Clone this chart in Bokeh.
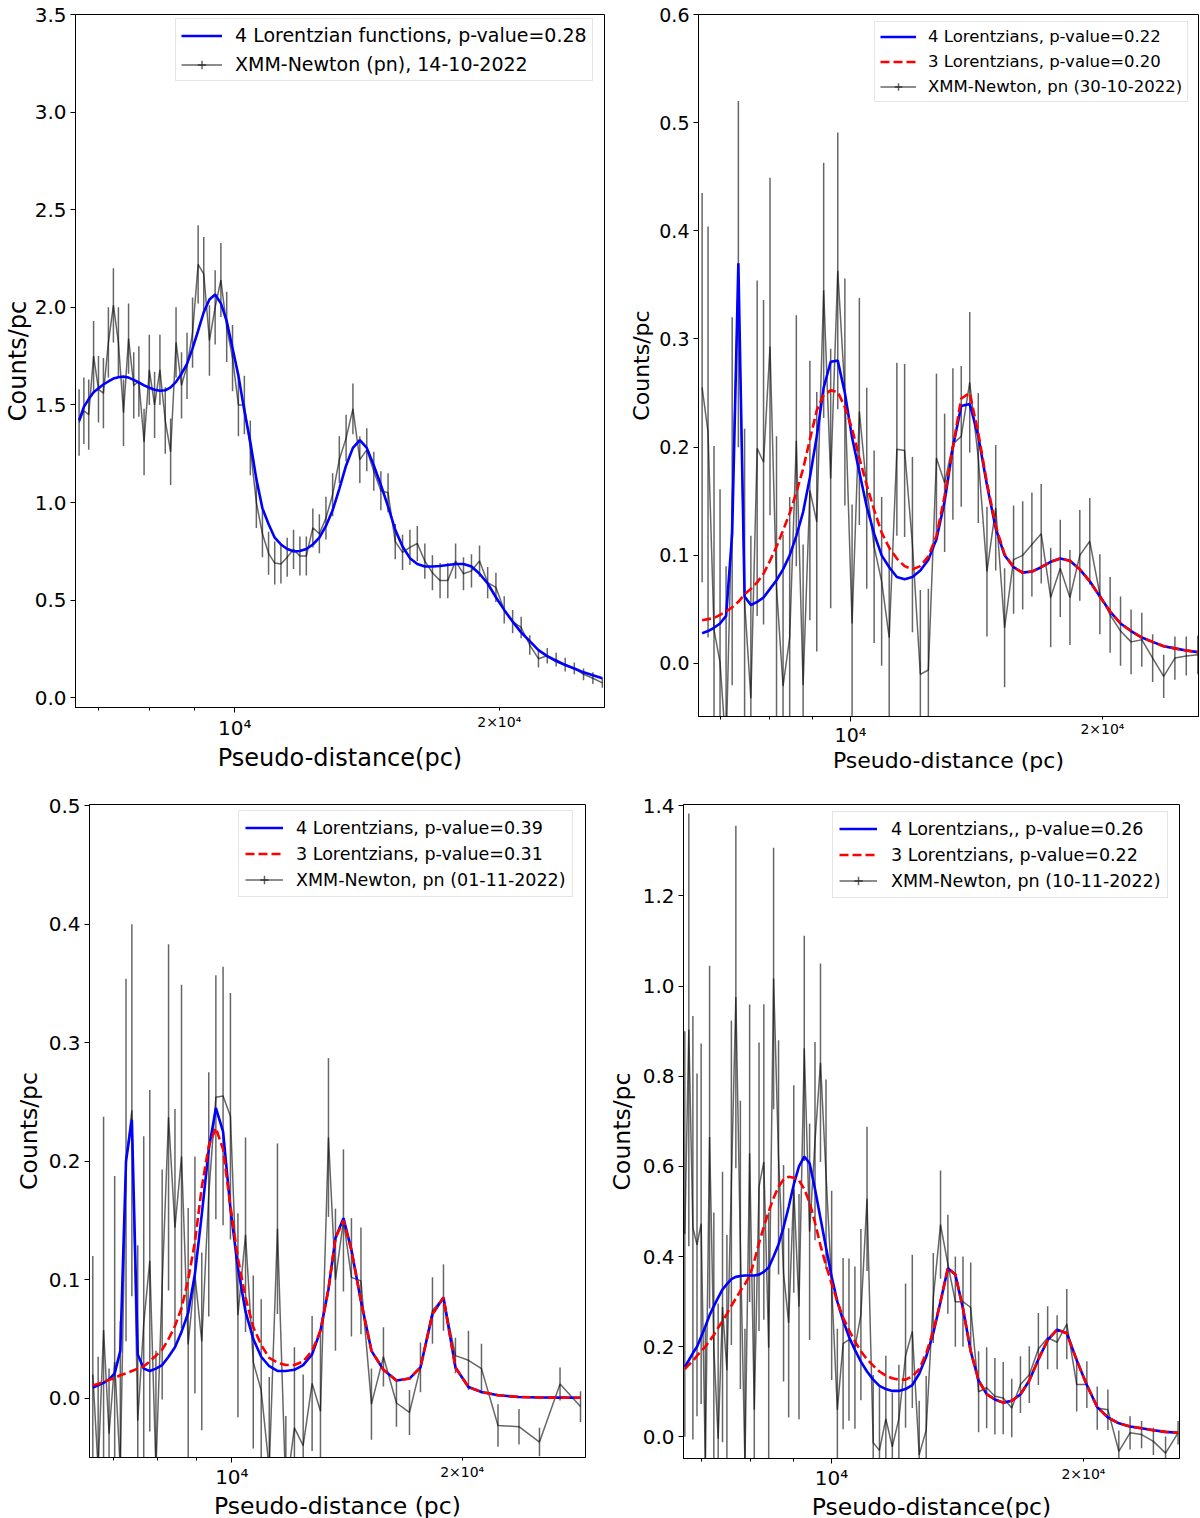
from bokeh.plotting import figure
from bokeh.models import (Range1d, FixedTicker, PrintfTickFormatter, Legend,
                          LegendItem, LogAxis, ColumnDataSource)
from bokeh.layouts import row, column
from bokeh.embed import file_html
from bokeh.resources import INLINE

FONT = "DejaVu Sans"

# ---------------- Panel 1 : XMM-Newton (pn), 14-10-2022 ----------------
P1_X = [6650, 6734, 6820, 6908, 6997, 7088, 7181, 7276, 7372, 7471,
        7571, 7674, 7778, 7885, 7994, 8105, 8219, 8335, 8453, 8574,
        8698, 8824, 8953, 9085, 9220, 9358, 9499, 9643, 9791, 9942,
        10096, 10255, 10416, 10582, 10752, 10926, 11104, 11286, 11473, 11665,
        11861, 12063, 12270, 12482, 12699, 12923, 13152, 13388, 13629, 13878,
        14133, 14396, 14665, 14943, 15228, 15522, 15824, 16135, 16456, 16786,
        17126, 17476, 17837, 18210, 18595, 18992, 19401, 19825, 20261, 20713,
        21180, 21663, 22163, 22680, 23215, 23770, 24345, 24941, 25559, 26200]
P1_Y = [1.41, 1.47, 1.45, 1.75, 1.58, 1.56, 1.82, 2.01, 1.82, 1.46,
        1.84, 1.60, 1.62, 1.31, 1.68, 1.50, 1.68, 1.42, 1.26, 1.82,
        1.60, 1.70, 1.87, 2.22, 2.17, 1.83, 2.00, 2.14, 1.90, 1.74,
        1.50, 1.50, 1.28, 1.00, 0.84, 0.74, 0.69, 0.685, 0.72, 0.76,
        0.726, 0.726, 0.87, 0.84, 0.92, 1.04, 1.22, 1.33, 1.48, 1.22,
        1.27, 1.16, 1.06, 1.05, 0.80, 0.745, 0.77, 0.79, 0.70, 0.64,
        0.60, 0.60, 0.70, 0.635, 0.65, 0.70, 0.59, 0.565, 0.45, 0.39,
        0.36, 0.27, 0.20, 0.215, 0.195, 0.17, 0.15, 0.12, 0.10, 0.076]
P1_ERR = [0.17, 0.17, 0.18, 0.18, 0.17, 0.18, 0.18, 0.19, 0.18, 0.17,
          0.18, 0.17, 0.18, 0.17, 0.18, 0.17, 0.18, 0.17, 0.17, 0.18,
          0.17, 0.17, 0.18, 0.20, 0.19, 0.18, 0.19, 0.19, 0.18, 0.17,
          0.16, 0.15, 0.14, 0.13,
          0.12, 0.11, 0.11, 0.10, 0.10, 0.10, 0.10, 0.10, 0.10, 0.10,
          0.11, 0.11, 0.12, 0.12, 0.13, 0.12, 0.11, 0.10, 0.10, 0.10,
          0.09, 0.09, 0.09, 0.09, 0.09, 0.09, 0.09, 0.09, 0.09, 0.085,
          0.085, 0.08, 0.08, 0.075, 0.07,
          0.06, 0.055, 0.05, 0.045,
          0.04, 0.035, 0.035, 0.03, 0.03, 0.03, 0.025]
P1_FIT4 = [1.42, 1.49, 1.53, 1.565, 1.585, 1.605, 1.62, 1.635, 1.642, 1.645,
           1.64, 1.628, 1.615, 1.60, 1.588, 1.578, 1.573, 1.575, 1.59, 1.618,
           1.66, 1.71, 1.79, 1.88, 1.975, 2.04, 2.066, 2.02, 1.93, 1.79,
           1.65, 1.47, 1.31, 1.12, 0.97, 0.89, 0.82, 0.785, 0.762, 0.75,
           0.752, 0.762, 0.785, 0.82, 0.88, 0.96, 1.07, 1.19, 1.28, 1.32,
           1.28, 1.19, 1.09, 0.98, 0.86, 0.775, 0.715, 0.685, 0.672, 0.672,
           0.675, 0.68, 0.685, 0.685, 0.672, 0.635, 0.585, 0.515, 0.45, 0.39,
           0.335, 0.29, 0.244, 0.213, 0.188, 0.168, 0.15, 0.13, 0.115, 0.10]

# ---------------- Panel 2 : XMM-Newton, pn (30-10-2022) ----------------
P2_X = [6650, 6759, 6871, 6986, 7103, 7223, 7347, 7474, 7604, 7737,
        7874, 8015, 8160, 8308, 8461, 8617, 8779, 8944, 9115, 9290,
        9471, 9657, 9848, 10045, 10248, 10458, 10673, 10896, 11125, 11362,
        11607, 11859, 12120, 12390, 12669, 12957, 13255, 13563, 13883, 14214,
        14557, 14912, 15281, 15663, 16060, 16472, 16900, 17346, 17809, 18290,
        18792, 19315, 19859, 20428, 21020, 21639, 22286, 22962, 23670, 24410,
        25186, 26000]
P2_Y = [0.255, 0.214, 0.031, 0.001, -0.08, 0.15, 0.36, 0.057, -0.032, 0.199,
        0.186, 0.293, 0.07, -0.021, 0.024, 0.206, -0.02, 0.16, 0.131, 0.345,
        0.171, 0.363, 0.251, 0.037, 0.233, 0.162, 0.108, 0.076, 0.024, 0.198,
        0.197, 0.11, -0.01, -0.006, 0.19, 0.167, 0.203, 0.21, 0.26, 0.19,
        0.085, 0.144, 0.033, 0.096, 0.10, 0.11, 0.12, 0.061, 0.088, 0.061,
        0.10, 0.113, 0.064, 0.045, 0.03, 0.02, 0.022, 0.005, -0.012, 0.005,
        0.007, 0.008]
P2_ERR = [0.18, 0.19, 0.17, 0.16, 0.17,
          0.17, 0.16, 0.16, 0.15, 0.155, 0.15, 0.156,
          0.14, 0.14, 0.13, 0.116, 0.13, 0.12, 0.12,
          0.118, 0.12, 0.128, 0.105, 0.11,
          0.105, 0.093, 0.089, 0.078, 0.085,
          0.08, 0.08, 0.081, 0.078, 0.075, 0.078, 0.064, 0.07,
          0.065, 0.065, 0.06, 0.06, 0.058, 0.055,
          0.05, 0.05, 0.048, 0.046, 0.046, 0.045, 0.044, 0.042,
          0.04, 0.037, 0.035, 0.032, 0.03,
          0.025, 0.022, 0.02, 0.02, 0.018, 0.018]
P2_FIT4 = [0.028, 0.030, 0.033, 0.037, 0.044, 0.12, 0.37, 0.062, 0.054, 0.057,
           0.061, 0.069, 0.077, 0.087, 0.10, 0.118, 0.14, 0.172, 0.21, 0.255,
           0.279, 0.28, 0.25, 0.209, 0.177, 0.145, 0.12, 0.10, 0.089, 0.08,
           0.078, 0.08, 0.086, 0.096, 0.115, 0.15, 0.20, 0.238, 0.24, 0.21,
           0.165, 0.125, 0.10, 0.089, 0.084, 0.085, 0.089, 0.094, 0.097, 0.095,
           0.087, 0.076, 0.062, 0.048, 0.037, 0.030, 0.024, 0.020, 0.016, 0.014,
           0.012, 0.0105]
P2_FIT3 = [0.040, 0.041, 0.042, 0.045, 0.048, 0.052, 0.057, 0.064, 0.069, 0.075,
           0.083, 0.095, 0.108, 0.123, 0.139, 0.158, 0.18, 0.207, 0.234, 0.248,
           0.2525, 0.251, 0.237, 0.217, 0.19, 0.165, 0.142, 0.121, 0.107, 0.097,
           0.09, 0.087, 0.09, 0.099, 0.118, 0.155, 0.20, 0.245, 0.25, 0.213,
           0.167, 0.127, 0.101, 0.089, 0.084, 0.085, 0.089, 0.094, 0.097, 0.095,
           0.087, 0.076, 0.062, 0.048, 0.037, 0.030, 0.024, 0.020, 0.016, 0.014,
           0.012, 0.0105]

# ---------------- Panel 3 : XMM-Newton, pn (01-11-2022) ----------------
P3_X = [6580, 6687, 6797, 6910, 7028, 7148, 7272, 7401, 7533, 7670,
        7811, 7957, 8108, 8265, 8426, 8594, 8768, 8948, 9134, 9328,
        9530, 9739, 9957, 10184, 10420, 10666, 10923, 11191, 11471, 11764,
        12072, 12394, 12732,
        13056, 13374, 13659, 13991, 14332, 14748, 15222, 15781, 16411, 17067,
        17641, 18290, 18906, 19600, 20383, 21197, 22277, 23731, 25240, 26851,
        28556]
P3_Y = [0.02, -0.06, 0.0575, -0.03, 0.0305, -0.06, 0.201, 0.243, -0.019, 0.063,
        0.116, -0.06, 0.096, 0.237, 0.144, 0.204, 0.0455, 0.104, 0.048, 0.172,
        0.254, 0.255, 0.238, 0.070, 0.138, 0.0305, 0.0066, -0.06, 0.143, -0.08,
        -0.025, -0.04, 0.0125,
        -0.011, 0.22, 0.10, 0.15, 0.102, 0.099, -0.005, 0.035, -0.004, -0.012,
        0.026, 0.074, 0.085, 0.036, 0.032, 0.025, -0.023, -0.024, -0.037, 0.012,
        -0.007]
P3_ERR = [0.10, 0.095, 0.18, 0.055, 0.157, 0.125, 0.153, 0.157, 0.148, 0.158,
          0.144, 0.10, 0.097, 0.146, 0.10, 0.145, 0.115, 0.10, 0.075, 0.103,
          0.103, 0.109, 0.104, 0.086, 0.082, 0.073, 0.077, 0.078, 0.072, 0.065,
          0.068, 0.06, 0.057,
          0.065, 0.067, 0.06, 0.06, 0.05, 0.045, 0.03, 0.025, 0.02, 0.019,
          0.021, 0.028, 0.028, 0.015, 0.025, 0.021, 0.018, 0.015, 0.012, 0.014,
          0.013]
P3_FIT4 = [0.009, 0.011, 0.013, 0.016, 0.021, 0.04, 0.20, 0.235, 0.037, 0.025,
           0.023, 0.025, 0.028, 0.035, 0.043, 0.056, 0.072, 0.105, 0.155, 0.21,
           0.245, 0.225, 0.16, 0.11, 0.073, 0.05, 0.035, 0.027, 0.023, 0.023,
           0.024, 0.028, 0.037,
           0.057, 0.092, 0.135, 0.152, 0.125, 0.082, 0.040, 0.024, 0.015, 0.0166,
           0.026, 0.071, 0.085, 0.026, 0.0095, 0.0053, 0.0025, 0.0011, 0.0006, 0.0005,
           0.0004]
P3_FIT3 = [0.011, 0.012, 0.014, 0.0155, 0.017, 0.0195, 0.021, 0.023, 0.025, 0.027,
           0.031, 0.036, 0.041, 0.050, 0.061, 0.076, 0.10, 0.132, 0.178, 0.213,
           0.228, 0.21, 0.162, 0.118, 0.085, 0.06, 0.045, 0.034, 0.030, 0.028,
           0.028, 0.031, 0.04,
           0.057, 0.092, 0.135, 0.150, 0.125, 0.082, 0.040, 0.024, 0.015, 0.0166,
           0.026, 0.071, 0.085, 0.026, 0.0095, 0.0053, 0.0025, 0.0011, 0.0006, 0.0005,
           0.0004]

# ---------------- Panel 4 : XMM-Newton, pn (10-11-2022) ----------------
P4_X = [6680, 6754, 6830, 6908, 6987, 7068, 7151, 7235, 7322, 7410,
        7500, 7593, 7687, 7783, 7882, 7984, 8087, 8193, 8302, 8414,
        8528, 8645, 8765, 8889, 9015, 9145, 9279, 9416, 9557, 9702,
        9851, 10005, 10163, 10325, 10493, 10666, 10843, 11027, 11216, 11411,
        11613, 11822, 12037, 12260, 12490, 12729, 12976, 13232, 13498, 13774,
        14060, 14358, 14667, 14989, 15325, 15675, 16039, 16419, 16817, 17232,
        17668, 18124, 18603, 19104, 19632, 20188, 20773, 21391, 22044, 22735,
        23467, 24243, 25068, 25946]
P4_Y = [0.45, 0.903, 0.464, 0.426, 0.473, -0.06, 0.665, 0.198, -0.004, 0.288,
        0.148, 0.564, 0.976, 0.426, -0.06, 0.629, 0.06, 0.555, 0.61, 0.198,
        1.017, 0.62, 0.363, 0.253, 0.55, 0.289, 0.862, 0.455, 0.656, 0.83,
        0.583, 0.336, 0.06, 0.207, 0.216, 0.198, 0.271, 0.528, -0.013, -0.03,
        0.04, -0.022, 0.04, 0.18, 0.234, -0.04, 0.015, 0.308, 0.471, 0.383,
        0.30, 0.30, 0.287, 0.10, 0.109, 0.09, 0.086, 0.064, 0.116, 0.138,
        0.195, 0.22, 0.21, 0.25, 0.116, 0.116, 0.064, 0.06, -0.032, 0.009,
        0.005, -0.01, -0.036, 0.009]
P4_ERR = [0.45, 0.48, 0.47, 0.38, 0.40, 0.30, 0.38, 0.30, 0.30, 0.30,
          0.30, 0.36, 0.38, 0.32, 0.30, 0.33, 0.30, 0.32, 0.35, 0.30,
          0.29, 0.26, 0.24, 0.21, 0.23, 0.25, 0.25, 0.24, 0.22, 0.22,
          0.21, 0.21, 0.18, 0.19, 0.18, 0.18, 0.19, 0.16, 0.15, 0.14,
          0.14, 0.12, 0.12, 0.16, 0.17, 0.12, 0.12, 0.10, 0.12, 0.11,
          0.10, 0.10, 0.10, 0.09, 0.09, 0.085, 0.08, 0.065, 0.063, 0.063,
          0.08, 0.07, 0.06, 0.078, 0.06, 0.052, 0.048, 0.045, 0.046, 0.037,
          0.03, 0.03, 0.037, 0.026]
P4_FIT4 = [0.155, 0.17, 0.186, 0.20, 0.222, 0.245, 0.27, 0.29, 0.309, 0.327,
           0.339, 0.35, 0.355, 0.357, 0.358, 0.358, 0.358, 0.36, 0.366, 0.376,
           0.40, 0.427, 0.465, 0.51, 0.56, 0.60, 0.622, 0.607, 0.55, 0.485,
           0.42, 0.355, 0.30, 0.258, 0.222, 0.193, 0.167, 0.145, 0.127, 0.113,
           0.106, 0.102, 0.102, 0.106, 0.115, 0.14, 0.178, 0.23, 0.30, 0.374,
           0.36, 0.285, 0.19, 0.125, 0.095, 0.083, 0.076, 0.08, 0.094, 0.125,
           0.172, 0.215, 0.238, 0.23, 0.17, 0.115, 0.066, 0.043, 0.03, 0.023,
           0.019, 0.0145, 0.011, 0.009]
P4_FIT3 = [0.15, 0.16, 0.168, 0.18, 0.19, 0.20, 0.213, 0.226, 0.242, 0.257,
           0.273, 0.291, 0.307, 0.324, 0.339, 0.357, 0.39, 0.43, 0.466, 0.50,
           0.53, 0.555, 0.571, 0.577, 0.575, 0.569, 0.55, 0.52, 0.475, 0.425,
           0.38, 0.34, 0.30, 0.265, 0.237, 0.212, 0.19, 0.172, 0.158, 0.145,
           0.136, 0.13, 0.127, 0.127, 0.134, 0.15, 0.185, 0.235, 0.30, 0.374,
           0.36, 0.285, 0.19, 0.125, 0.095, 0.083, 0.076, 0.08, 0.094, 0.125,
           0.172, 0.215, 0.238, 0.23, 0.17, 0.115, 0.066, 0.043, 0.03, 0.023,
           0.019, 0.0145, 0.011, 0.009]

# ---------------- ticks & labels ----------------
Y_TICKS_1 = [0.0, 0.5, 1.0, 1.5, 2.0, 2.5, 3.0, 3.5]
Y_TICKS_2 = [0.0, 0.1, 0.2, 0.3, 0.4, 0.5, 0.6]
Y_TICKS_3 = [0.0, 0.1, 0.2, 0.3, 0.4, 0.5]
Y_TICKS_4 = [0.0, 0.2, 0.4, 0.6, 0.8, 1.0, 1.2, 1.4]
X_MAJOR = [10000]
X_MINOR = [7000, 8000, 9000, 20000]
X_MAJOR_LABELS = {10000: "10\u2074"}
X_MINOR_LABEL_AT = 20000
X_MINOR_LABEL = "2\u00d710\u2074"
Y_LABEL = "Counts/pc"

LEG1 = ["4 Lorentzian functions, p-value=0.28", "XMM-Newton (pn), 14-10-2022"]
LEG2 = ["4 Lorentzians, p-value=0.22", "3 Lorentzians, p-value=0.20", "XMM-Newton, pn (30-10-2022)"]
LEG3 = ["4 Lorentzians, p-value=0.39", "3 Lorentzians, p-value=0.31", "XMM-Newton, pn (01-11-2022)"]
LEG4 = ["4 Lorentzians,, p-value=0.26", "3 Lorentzians, p-value=0.22", "XMM-Newton, pn (10-11-2022)"]


def make_panel(x, y, err, fit4, fit3, labels, xlabel, xr, yr, yticks,
               frame, borders, tick_fs, lab_fs, ylab_so, xlab_so, xtick_so,
               minor_so, leg):
    for arr in (y, err, fit4) + ((fit3,) if fit3 is not None else ()):
        assert len(arr) == len(x)
    fw, fh = frame
    bl, br, bt, bb = borders
    p = figure(x_axis_type="log", x_range=Range1d(*xr), y_range=Range1d(*yr),
               frame_width=fw, frame_height=fh,
               min_border_left=bl, min_border_right=br,
               min_border_top=bt, min_border_bottom=bb,
               output_backend="svg", toolbar_location=None)
    p.xgrid.visible = False
    p.ygrid.visible = False
    p.outline_line_color = "black"
    p.outline_line_width = 1
    p.outline_line_alpha = 1
    p.background_fill_color = "white"
    p.border_fill_color = "white"

    lo = [a - b for a, b in zip(y, err)]
    hi = [a + b for a, b in zip(y, err)]
    src = ColumnDataSource(dict(x=x, y=y, lo=lo, hi=hi))
    p.segment(x0="x", y0="lo", x1="x", y1="hi", source=src,
              line_color="black", line_alpha=0.6, line_width=1.5)
    data_line = p.line("x", "y", source=src, line_color="black",
                       line_alpha=0.6, line_width=1.5)
    data_tick = p.scatter("x", "y", source=src, marker="cross", size=0,
                          line_color="black", line_alpha=0.6, line_width=1.5)

    items = []
    r4 = p.line(x, fit4, line_color="blue", line_width=2.6)
    items.append(LegendItem(label=labels[0], renderers=[r4]))
    if fit3 is not None:
        r3 = p.line(x, fit3, line_color="red", line_width=2.6, line_dash="9 4")
        items.append(LegendItem(label=labels[1], renderers=[r3]))
    items.append(LegendItem(label=labels[-1], renderers=[data_line, data_tick]))

    xa = p.xaxis[0]
    xa.ticker = FixedTicker(ticks=X_MAJOR, minor_ticks=X_MINOR)
    xa.major_label_overrides = X_MAJOR_LABELS
    xa.axis_label = xlabel
    xa.major_tick_out = 5
    xa.major_tick_in = 0
    xa.minor_tick_out = 3
    xa.minor_tick_in = 0
    xa.major_label_standoff = xtick_so
    xa.axis_label_standoff = xlab_so

    ya = p.yaxis[0]
    ya.ticker = FixedTicker(ticks=yticks, minor_ticks=[])
    ya.formatter = PrintfTickFormatter(format="%.1f")
    ya.axis_label = Y_LABEL
    ya.major_tick_out = 5
    ya.major_tick_in = 0
    ya.major_label_standoff = 4
    ya.axis_label_standoff = ylab_so

    for ax in (xa, ya):
        ax.axis_line_color = "black"
        ax.axis_line_width = 1
        ax.major_tick_line_color = "black"
        ax.minor_tick_line_color = "black"
        ax.major_label_text_font = FONT
        ax.major_label_text_font_size = tick_fs
        ax.major_label_text_color = "black"
        ax.axis_label_text_font = FONT
        ax.axis_label_text_font_size = lab_fs
        ax.axis_label_text_font_style = "normal"
        ax.axis_label_text_color = "black"

    # small "2x10^4" label of the minor tick: an outer label-only axis whose
    # (negative) standoff pulls its label up next to the frame bottom
    ax2 = LogAxis(ticker=FixedTicker(ticks=[X_MINOR_LABEL_AT], minor_ticks=[]),
                  major_label_overrides={X_MINOR_LABEL_AT: X_MINOR_LABEL},
                  axis_line_color=None, major_tick_line_color=None,
                  minor_tick_line_color=None, major_tick_out=0, major_tick_in=0,
                  minor_tick_out=0, minor_tick_in=0,
                  major_label_standoff=minor_so, major_label_text_font=FONT,
                  major_label_text_font_size="14px", major_label_text_color="black")
    p.add_layout(ax2, "below")

    lg = Legend(items=items, location=leg["loc"],
                padding=leg["padding"], spacing=leg["spacing"],
                label_height=leg["lh"], glyph_height=leg["lh"], glyph_width=leg["gw"],
                label_standoff=leg["so"], label_text_font=FONT,
                label_text_font_size=leg["fs"], label_text_color="black",
                border_line_color="#cccccc", border_line_width=1,
                background_fill_color="white", background_fill_alpha=0.8)
    p.add_layout(lg)
    return p


p1 = make_panel(P1_X, P1_Y, P1_ERR, P1_FIT4, None, LEG1, "Pseudo-distance(pc)",
                (6588, 26350), (-0.05, 3.5), Y_TICKS_1,
                (529, 693), (75, 16, 14, 73), "20px", "24px", 0, 1, 3, -61,
                dict(loc=(100, 626), padding=5, spacing=7, lh=21, gw=41, so=13, fs="19px"))
p2 = make_panel(P2_X, P2_Y, P2_ERR, P2_FIT4, P2_FIT3, LEG2, "Pseudo-distance (pc)",
                (6584, 26048), (-0.049, 0.6), Y_TICKS_2,
                (500, 702), (78, 1, 14, 64), "19px", "22px", 2, -1, 2, -55,
                dict(loc=(176, 614), padding=5, spacing=6, lh=19, gw=36, so=12, fs="16.5px"))
p3 = make_panel(P3_X, P3_Y, P3_ERR, P3_FIT4, P3_FIT3, LEG3, "Pseudo-distance (pc)",
                (6515, 28990), (-0.05, 0.501), Y_TICKS_3,
                (496, 653), (89, 19, 24, 57), "20px", "23.5px", 3, 0, 2, -59,
                dict(loc=(149, 560), padding=6, spacing=5, lh=21, gw=38, so=13, fs="17.5px"))
p4 = make_panel(P4_X, P4_Y, P4_ERR, P4_FIT4, P4_FIT3, LEG4, "Pseudo-distance(pc)",
                (6656, 26048), (-0.048, 1.403), Y_TICKS_4,
                (496, 654), (79, 20, 23, 56), "20px", "23.5px", 4, 0, 2, -58,
                dict(loc=(149, 560), padding=6, spacing=5, lh=21, gw=38, so=14, fs="17.5px"))

layout = column(row(p1, p2), row(p3, p4))
open("out.html", "w").write(file_html(layout, INLINE))
